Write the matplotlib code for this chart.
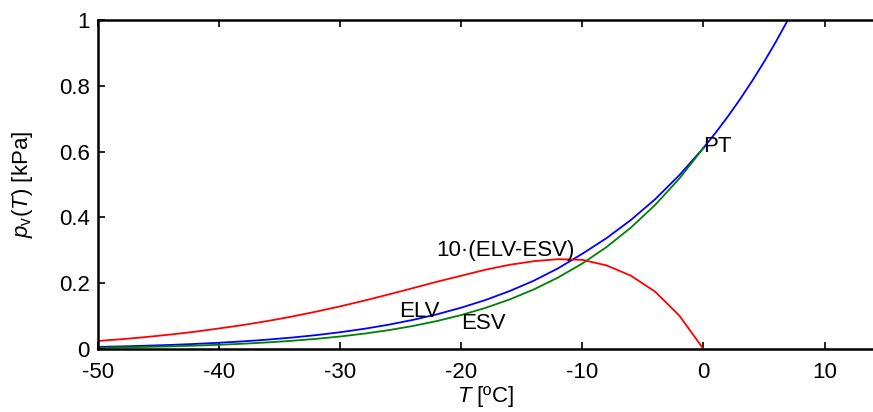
import numpy as np
import matplotlib
matplotlib.use('Agg')
import matplotlib.pyplot as plt

# temperature grid [degC]
T_sub = [-50, -48, -46, -44, -42, -40, -38, -36, -34, -32, -30, -28, -26,
         -24, -22, -20, -18, -16, -14, -12, -10, -8, -6, -4, -2, 0]
T_pos = [0, 1, 2, 3, 4, 5, 6, 7]

# vapour pressure over (supercooled) liquid water [kPa]
elv = [0.00639, 0.00802, 0.01001, 0.01244, 0.01539, 0.01898, 0.02330,
       0.02849, 0.03472, 0.04214, 0.05098, 0.06146, 0.07385, 0.08842,
       0.10556, 0.12557, 0.14897, 0.17621, 0.20780, 0.24535, 0.28956,
       0.33716, 0.39197, 0.45491, 0.52793, 0.61121]
# vapour pressure over ice [kPa]
esv = [0.00394, 0.00503, 0.00640, 0.00811, 0.01023, 0.01285, 0.01608,
       0.02005, 0.02490, 0.03082, 0.03802, 0.04675, 0.05727, 0.06992,
       0.08511, 0.10330, 0.12494, 0.15071, 0.18124, 0.21736, 0.25995,
       0.31003, 0.36880, 0.43753, 0.51774, 0.61115]
# 10*(ELV-ESV)
diff10 = [0.0245, 0.0299, 0.0365, 0.0440, 0.0525, 0.0625, 0.0730, 0.0850,
          0.0985, 0.1135, 0.1296, 0.1471, 0.1658, 0.1850, 0.2045, 0.2227,
          0.2410, 0.2560, 0.2670, 0.2730, 0.2710, 0.2540, 0.2230, 0.1745,
          0.1019, 0.0]
# liquid above the triple point
pt = [0.61121, 0.65706, 0.70594, 0.75802, 0.81346, 0.87246, 0.93520, 1.0019]

xticks = [-50, -40, -30, -20, -10, 0, 10]
yticks = [0, 0.2, 0.4, 0.6, 0.8, 1]
ytick_text = ['0', '0.2', '0.4', '0.6', '0.8', '1']

plt.rcParams['font.family'] = ['Liberation Sans', 'DejaVu Sans']
plt.rcParams['mathtext.fontset'] = 'custom'
plt.rcParams['mathtext.rm'] = 'Liberation Sans'
plt.rcParams['mathtext.it'] = 'Liberation Sans:italic'
plt.rcParams['axes.unicode_minus'] = False

fig = plt.figure(figsize=(8.73, 4.12), dpi=100)
ax = fig.add_axes([98 / 873, 1 - 349 / 412, 1 - 98 / 873, 329 / 412])

ax.plot(T_sub, elv, color='#0000ff', lw=1.3)
ax.plot(T_pos, pt, color='#0000ff', lw=1.3)
ax.plot(T_sub, esv, color='#008000', lw=1.3)
ax.plot(T_sub, diff10, color='#ff0000', lw=1.3)

fs = 16
ax.text(0.0, 0.617, 'PT', fontsize=fs, ha='left', va='center')
ax.text(-25.1, 0.1155, 'ELV', fontsize=fs, ha='left', va='center')
ax.text(-20.0, 0.076, 'ESV', fontsize=fs, ha='left', va='center')
ax.text(-22.1, 0.298, '10\u00b7(ELV-ESV)', fontsize=fs, ha='left', va='center')

ax.set_xlim(-50, 14)
ax.set_ylim(0, 1)
ax.set_xticks(xticks)
ax.set_yticks(yticks)
ax.set_yticklabels(ytick_text)
ax.tick_params(direction='in', length=5, width=1.2, labelsize=fs,
               top=True, right=False, pad=6)
ax.tick_params(axis='x', pad=9)
for side in ['left', 'bottom', 'top']:
    ax.spines[side].set_linewidth(1.8)
ax.spines['right'].set_visible(False)

ax.set_xlabel(r'$T$ [ºC]', fontsize=fs, labelpad=1)
ax.set_ylabel(r'$p_\mathrm{v}(T)$ [kPa]', fontsize=fs, labelpad=17)

fig.savefig('out.png', dpi=100)
